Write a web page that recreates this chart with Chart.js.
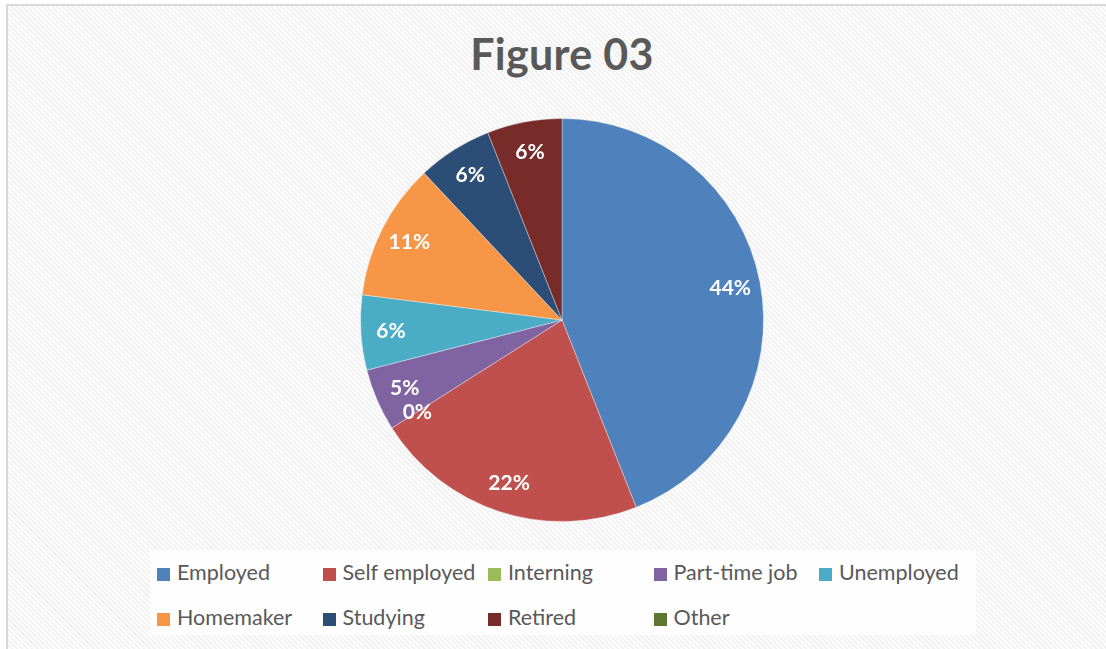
<!DOCTYPE html>
<html>
<head>
<meta charset="utf-8">
<script src="https://cdn.jsdelivr.net/npm/chart.js@4.4.1/dist/chart.umd.min.js"></script>
<style>
  html, body { margin: 0; padding: 0; }
  body {
    width: 1106px; height: 649px; overflow: hidden; position: relative;
    font-family: Lato, "Open Sans", sans-serif;
    background: #fff;
  }
  #frame {
    position: absolute; left: 6px; top: 4px; width: 1110px; height: 660px;
    border: 2px solid #d9d9d9;
    background: repeating-linear-gradient(45deg, #f1f1f1 0px, #f1f1f1 1.6px, #fcfcfc 1.6px, #fcfcfc 3.6px);
  }
  #title {
    position: absolute; left: 0; width: 1124px; top: 28px; text-align: center;
    font-size: 43px; font-weight: bold; color: #595959; letter-spacing: 0.3px;
  }
  #legend {
    position: absolute; left: 150px; top: 550px; width: 826px; height: 85px;
    background: rgba(255,255,255,0.82);
  }
  .item {
    position: absolute; height: 24px; line-height: 24px;
    font-size: 21.5px; color: #595959; white-space: nowrap;
  }
  .item span.box {
    display: inline-block; width: 13px; height: 13px; vertical-align: -1px; margin-right: 7px;
  }
  canvas { position: absolute; left: 0; top: 0; }
</style>
</head>
<body>
<div id="frame"></div>
<div id="title">Figure 03</div>
<div id="legend"></div>
<canvas id="pie-chart" width="1106" height="649"></canvas>
<script>
// categories and their shares (percent)
const categories = ["Employed", "Self employed", "Interning", "Part-time job", "Unemployed",
                    "Homemaker", "Studying", "Retired", "Other"];
const shares = [44, 22, 0, 5, 6, 11, 6, 6, 0];
const sliceColors = ["#4F81BD", "#C0504D", "#9BBB59", "#8064A2", "#4BACC6",
                     "#F79646", "#2C4D75", "#772C2A", "#5F7530"];
// which zero slices still get a label
const showZeroLabel = [false, false, true, false, false, false, false, false, false];

// white percentage labels inside each slice
const sliceLabels = {
    id: 'sliceLabels',
    afterDatasetsDraw(chart) {
        const ctx = chart.ctx;
        const meta = chart.getDatasetMeta(0);
        ctx.save();
        ctx.font = "bold 21px Lato, 'Open Sans', sans-serif";
        ctx.fillStyle = "#ffffff";
        ctx.textAlign = "center";
        ctx.textBaseline = "middle";
        meta.data.forEach((arc, i) => {
            if (shares[i] === 0 && !showZeroLabel[i]) return;
            const mid = (arc.startAngle + arc.endAngle) / 2;
            const r = arc.outerRadius * 0.85;
            const x = arc.x + Math.cos(mid) * r;
            const y = arc.y + Math.sin(mid) * r;
            ctx.fillText(shares[i] + "%", x, y);
        });
        ctx.restore();
    }
};

const chartObj = new Chart(document.getElementById("pie-chart"), {
    type: 'pie',
    data: {
        labels: categories,
        datasets: [{
            data: shares,
            backgroundColor: sliceColors,
            borderColor: "rgba(255,255,255,0.35)",
            borderWidth: 1
        }]
    },
    options: {
        responsive: false,
        animation: false,
        layout: { padding: { left: 18, right: 0, top: 118, bottom: 127 } },
        plugins: {
            legend: { display: false },
            title: { display: false },
            tooltip: { enabled: false }
        }
    },
    plugins: [sliceLabels]
});

// legend grid: five columns, two rows
const legendEl = document.getElementById("legend");
categories.forEach((name, i) => {
    const col = i < 5 ? i : i - 5;
    const row = i < 5 ? 0 : 1;
    const div = document.createElement("div");
    div.className = "item";
    div.style.left = (7 + col * 165.5) + "px";
    div.style.top = (10 + row * 45) + "px";
    div.innerHTML = '<span class="box" style="background:' + sliceColors[i] + '"></span>' + name;
    legendEl.appendChild(div);
});
</script>
</body>
</html>
